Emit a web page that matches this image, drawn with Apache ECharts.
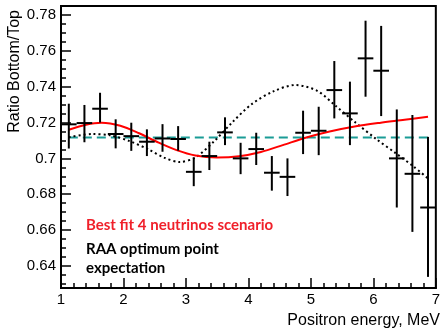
<!DOCTYPE html>
<html>
<head>
<meta charset="utf-8">
<script src="https://cdn.jsdelivr.net/npm/echarts@6/dist/echarts.min.js"></script>
<style>
html, body { margin: 0; padding: 0; background: #fff; }
#chart { width: 443px; height: 328px; }
</style>
</head>
<body>
<div id="chart"></div>
<script>
// measured points: bin centre, ratio, lower and upper end of the error bar
var binEnergy = [1.125, 1.375, 1.625, 1.875, 2.125, 2.375, 2.625, 2.875, 3.125, 3.375, 3.625, 3.875,
                 4.125, 4.375, 4.625, 4.875, 5.125, 5.375, 5.625, 5.875, 6.125, 6.375, 6.625, 6.875];
var ratio   = [0.719, 0.7197, 0.7277, 0.7136, 0.7124, 0.7093, 0.7111, 0.7108, 0.6925, 0.7013, 0.7145, 0.700,
               0.7052, 0.692, 0.6897, 0.7143, 0.7154, 0.7381, 0.7251, 0.7558, 0.7489, 0.700, 0.6914, 0.6726];
var ratioLo = [0.7055, 0.709, 0.720, 0.7056, 0.7042, 0.7013, 0.7037, 0.7043, 0.6845, 0.6935, 0.7074, 0.6912,
               0.6963, 0.682, 0.679, 0.7024, 0.7018, 0.7223, 0.7074, 0.7344, 0.7236, 0.6726, 0.659, 0.6339];
var ratioHi = [0.7305, 0.7298, 0.7366, 0.7218, 0.7199, 0.7162, 0.7191, 0.718, 0.7005, 0.7093, 0.7229, 0.7087,
               0.7143, 0.7013, 0.700, 0.7266, 0.7288, 0.7543, 0.7428, 0.7768, 0.7739, 0.7273, 0.7242, 0.712];
var halfBin = 0.125;

// best fit, 4 neutrinos (red)
var fitEnergy = [1.125, 1.4, 1.65, 1.95, 2.25, 2.55, 2.85, 3.15, 3.5, 3.85, 4.2, 4.55, 4.9, 5.3, 5.7, 6.1, 6.5, 6.875];
var fitRatio  = [0.716, 0.7188, 0.7199, 0.7182, 0.714, 0.709, 0.7046, 0.7016, 0.7005, 0.7012, 0.7036, 0.7074, 0.7114, 0.715, 0.7178, 0.7198, 0.7215, 0.7232];

// RAA optimum point expectation (black dotted)
var raaEnergy = [1.125, 1.5, 1.8, 2.1, 2.4, 2.65, 2.9, 3.15, 3.45, 3.75, 4.05, 4.4, 4.75, 5.1, 5.4, 5.7, 6.05, 6.35, 6.65, 6.875];
var raaRatio  = [0.7118, 0.7136, 0.7128, 0.7096, 0.705, 0.7004, 0.698, 0.7005, 0.7095, 0.7204, 0.7302, 0.7374, 0.7409, 0.7377, 0.7292, 0.7204, 0.7107, 0.7031, 0.6953, 0.6888];

// no oscillation (teal dashed)
var flatEnergy = [1.125, 6.875];
var flatRatio  = [0.7117, 0.7117];

var xTicks = [1, 2, 3, 4, 5, 6, 7];

function pairs(xs, ys) {
    return xs.map(function (x, i) { return [x, ys[i]]; });
}

var dom = document.getElementById("chart");
var myChart = echarts.init(dom);

function renderCross(params, api) {
    var x = api.value(0), y = api.value(1);
    var c = api.coord([x, y]);
    var l = api.coord([x - halfBin, y]);
    var r = api.coord([x + halfBin, y]);
    var t = api.coord([x, api.value(3)]);
    var b = api.coord([x, api.value(2)]);
    var st = { stroke: '#000', lineWidth: 2 };
    return {
        type: 'group',
        children: [
            { type: 'line', shape: { x1: l[0], y1: c[1], x2: r[0], y2: c[1] }, style: st },
            { type: 'line', shape: { x1: c[0], y1: t[1], x2: c[0], y2: b[1] }, style: st }
        ]
    };
}

var tickFont = { color: '#000', fontFamily: 'Liberation Sans', fontSize: 15 };

var option = {
    animation: false,
    grid: {
        left: 61, right: 2, top: 6, bottom: 40,
        show: true,
        borderColor: '#000',
        borderWidth: 2
    },
    xAxis: {
        type: 'value',
        min: xTicks[0],
        max: xTicks[xTicks.length - 1],
        interval: 1,
        axisLine: { lineStyle: { color: '#000', width: 2 } },
        axisTick: { inside: true, length: 10, lineStyle: { color: '#000', width: 1.5 } },
        minorTick: { show: true, splitNumber: 5, length: 5, lineStyle: { color: '#000', width: 1.5 } },
        splitLine: { show: false },
        axisLabel: Object.assign({ margin: 4 }, tickFont)
    },
    yAxis: {
        type: 'value',
        min: 0.6277,
        max: 0.785,
        splitNumber: 8,
        axisLine: { onZero: false, lineStyle: { color: '#000', width: 2 } },
        axisTick: { inside: true, length: 10, lineStyle: { color: '#000', width: 1.5 } },
        minorTick: { show: true, splitNumber: 4, length: 5, lineStyle: { color: '#000', width: 1.5 } },
        splitLine: { show: false },
        axisLabel: Object.assign({ margin: 5, showMinLabel: false, showMaxLabel: false }, tickFont)
    },
    graphic: [
        { type: 'text', x: 15, y: 10, rotation: Math.PI / 2,
          style: { text: 'Ratio Bottom/Top', align: 'right', verticalAlign: 'middle',
                   font: '16px "Liberation Sans"', fill: '#000' } },
        { type: 'text', x: 440, y: 321,
          style: { text: 'Positron energy, MeV', align: 'right', verticalAlign: 'middle',
                   font: '16px "Liberation Sans"', fill: '#000' } },
        { type: 'text', x: 86, y: 225,
          style: { text: 'Best fit 4 neutrinos scenario', align: 'left', verticalAlign: 'middle',
                   font: 'bold 15px Lato', fill: '#f0202a' } },
        { type: 'text', x: 86, y: 249,
          style: { text: 'RAA optimum point', align: 'left', verticalAlign: 'middle',
                   font: 'bold 15px Lato', fill: '#000' } },
        { type: 'text', x: 86, y: 268,
          style: { text: 'expectation', align: 'left', verticalAlign: 'middle',
                   font: 'bold 15px Lato', fill: '#000' } }
    ],
    series: [
        {
            name: 'flat',
            type: 'line',
            data: pairs(flatEnergy, flatRatio),
            showSymbol: false,
            lineStyle: { color: '#1a9c96', width: 2, type: [9, 5] },
            z: 2
        },
        {
            name: 'RAA',
            type: 'line',
            data: pairs(raaEnergy, raaRatio),
            smooth: 0.3,
            showSymbol: false,
            lineStyle: { color: '#000', width: 2, type: [2, 3] },
            z: 3
        },
        {
            name: 'fit',
            type: 'line',
            data: pairs(fitEnergy, fitRatio),
            smooth: 0.3,
            showSymbol: false,
            lineStyle: { color: '#ff0000', width: 2 },
            z: 4
        },
        {
            name: 'data',
            type: 'custom',
            renderItem: renderCross,
            data: binEnergy.map(function (e, i) { return [e, ratio[i], ratioLo[i], ratioHi[i]]; }),
            encode: { x: 0, y: [1, 2, 3] },
            z: 5
        }
    ]
};

if (option && typeof option === "object") {
    myChart.setOption(option, true);
}
</script>
</body>
</html>
